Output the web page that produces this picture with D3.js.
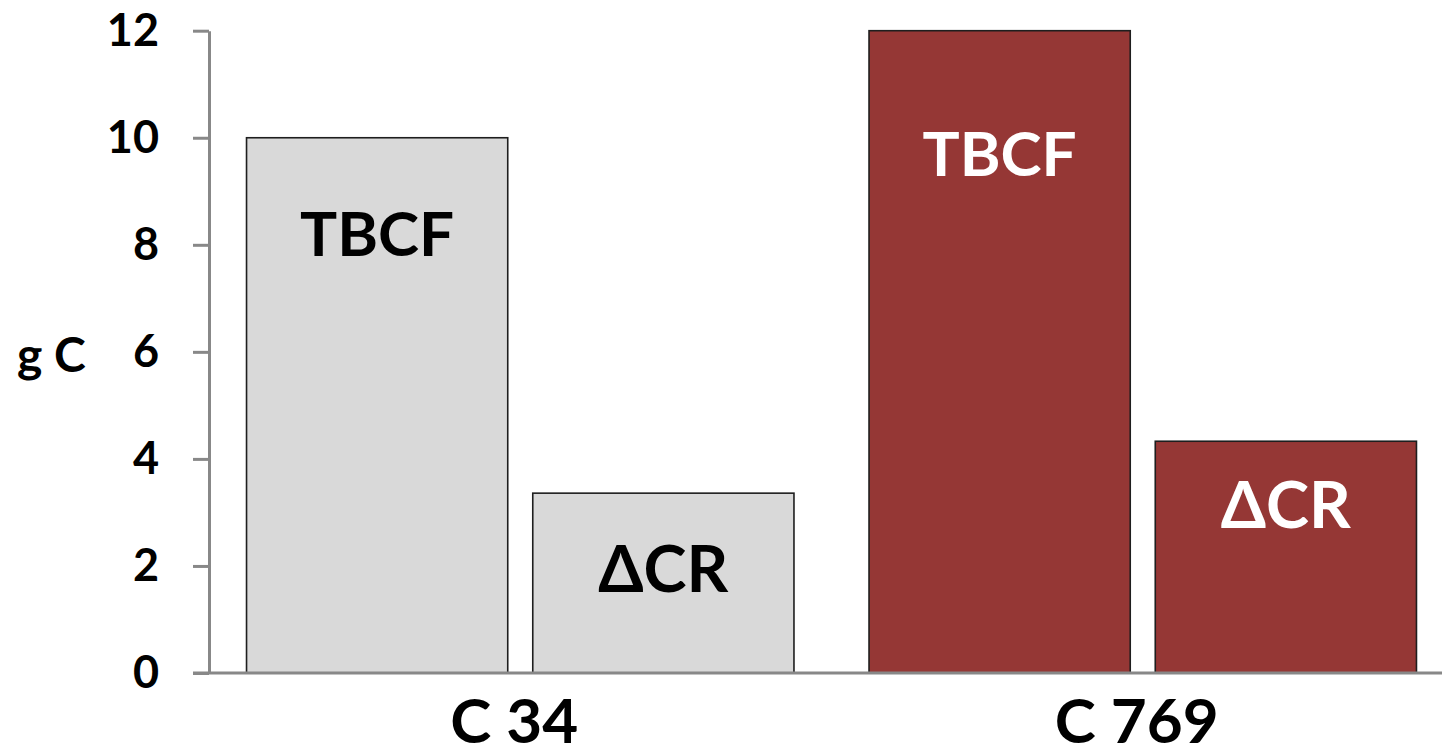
<!DOCTYPE html>
<html>
<head>
<meta charset="utf-8">
<script src="https://cdn.jsdelivr.net/npm/d3@7"></script>
<style>
  html, body { margin: 0; padding: 0; background: #fff; }
  svg { display: block; }
  text { font-family: Lato, "Open Sans", sans-serif; font-weight: 700; }
</style>
</head>
<body>
<svg id="chart" width="1442" height="756"></svg>
<script>
// Sites compared
const categories = ["C 34", "C 769"];
// Carbon flux components per site
const series = ["TBCF", "ΔCR"];
const tbcfValues = [10, 12];
const deltaCrValues = [3.36, 4.33];
// Y axis ticks
const yTicks = [0, 2, 4, 6, 8, 10, 12];
const yLabel = "g C";

// Where each in-bar label sits (baseline, in axis units)
const labelBaselines = [[7.8, 1.51], [9.29, 2.71]];

const siteFill = ["#d9d9d9", "#953735"];
const siteText = ["#000000", "#ffffff"];

const svg = d3.select("#chart");
const plotLeft = 209, plotBottom = 673, plotTop = 30.7;

const y = d3.scaleLinear().domain([0, 12]).range([plotBottom, plotTop]);
const x0 = d3.scaleBand().domain(categories).range([plotLeft, plotLeft + 2 * 622.5]).padding(0);
const x1 = d3.scaleBand().domain(series).range([0, x0.bandwidth()])
  .paddingInner(25 / 286).paddingOuter(37.5 / 286);

const rows = categories.map((c, i) => ({
  cat: c, idx: i,
  values: [
    { key: "TBCF", value: tbcfValues[i], label: labelBaselines[i][0] },
    { key: "ΔCR", value: deltaCrValues[i], label: labelBaselines[i][1] }
  ]
}));

// Bars
const g = svg.append("g");
rows.forEach(r => {
  const grp = g.append("g").attr("transform", `translate(${x0(r.cat)},0)`);
  grp.selectAll("rect").data(r.values).join("rect")
    .attr("x", d => x1(d.key))
    .attr("y", d => y(d.value))
    .attr("width", x1.bandwidth())
    .attr("height", d => y(0) - y(d.value))
    .attr("fill", siteFill[r.idx])
    .attr("stroke", "#1e1e1e")
    .attr("stroke-width", 1.6);
  grp.selectAll("text").data(r.values).join("text")
    .attr("x", d => x1(d.key) + x1.bandwidth() / 2)
    .attr("y", d => y(d.label))
    .attr("text-anchor", "middle")
    .attr("font-size", d => d.key === "TBCF" ? 62 : 65)
    .attr("fill", siteText[r.idx])
    .text(d => d.key);
});

// Y axis
const yAxis = d3.axisLeft(y).tickValues(yTicks).tickSize(16).tickPadding(34).tickSizeOuter(0);
const ya = svg.append("g").attr("transform", `translate(${plotLeft},0)`).call(yAxis);
ya.select(".domain").attr("stroke", "#888").attr("stroke-width", 3);
ya.selectAll(".tick line").attr("stroke", "#888").attr("stroke-width", 3);
ya.selectAll(".tick text").attr("font-size", 45).attr("fill", "#000")
  .attr("font-family", "Lato, sans-serif").attr("font-weight", 900);

// X axis baseline and category labels
const xa = d3.axisBottom(x0).tickSize(0).tickPadding(26);
const xg = svg.append("g").attr("transform", `translate(0,${plotBottom})`).call(xa);
xg.select(".domain").remove();
xg.selectAll(".tick text").attr("font-size", 62).attr("fill", "#000")
  .attr("font-family", "Lato, sans-serif").attr("font-weight", 700)
  .attr("dy", "0.71em").attr("dx", -6);
svg.append("line")
  .attr("x1", plotLeft - 16).attr("x2", 1442)
  .attr("y1", y(0)).attr("y2", y(0))
  .attr("stroke", "#888").attr("stroke-width", 3);

// Y axis title
svg.append("text")
  .attr("x", 17).attr("y", 372)
  .attr("font-size", 48).attr("fill", "#000")
  .text(yLabel);
</script>
</body>
</html>
